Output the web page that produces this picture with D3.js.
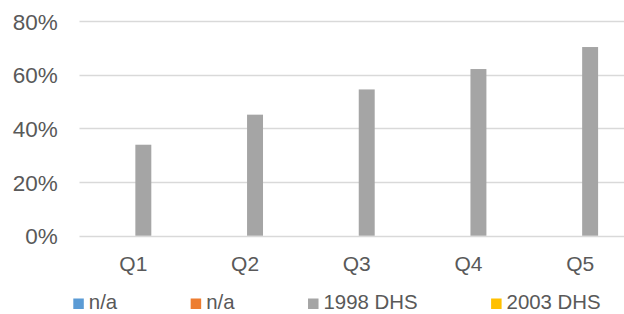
<!DOCTYPE html>
<html><head><meta charset="utf-8">
<script src="https://cdn.jsdelivr.net/npm/d3@7"></script>
<style>
html,body{margin:0;padding:0;background:#fff;overflow:hidden;}
text{font-family:"Liberation Sans",Arial,sans-serif;fill:#595959;}
</style></head>
<body>
<svg id="chart" width="624" height="314"></svg>
<script>
const categories = ["Q1","Q2","Q3","Q4","Q5"];
const seriesNames = ["n/a","n/a ","1998 DHS","2003 DHS"];
const seriesLabels = ["n/a","n/a","1998 DHS","2003 DHS"];
const seriesColors = ["#5B9BD5","#ED7D31","#A5A5A5","#FFC000"];
const valuesNA1 = [null,null,null,null,null];
const valuesNA2 = [null,null,null,null,null];
const values1998 = [0.339,0.451,0.545,0.621,0.703];
const values2003 = [null,null,null,null,null];
const yTicks = [0,0.2,0.4,0.6,0.8];

const seriesValues = [valuesNA1,valuesNA2,values1998,values2003];

const svg = d3.select("#chart");
const plotLeft = 79.5, step = 111.7, plotTop = 21, plotBottom = 235.7;

const x0 = d3.scaleBand().domain(categories).range([plotLeft, plotLeft + step*categories.length]).paddingInner(0).paddingOuter(0);
const x1 = d3.scaleBand().domain(seriesNames).range([0, x0.bandwidth()]).paddingInner(0).paddingOuter(1.5);
const y = d3.scaleLinear().domain([0,0.8]).range([plotBottom, plotTop]);

// gridlines
svg.append("g").selectAll("line").data(yTicks).join("line")
  .attr("x1", plotLeft).attr("x2", 624)
  .attr("y1", d=>Math.round(y(d))+0.5).attr("y2", d=>Math.round(y(d))+0.5)
  .attr("stroke","#D9D9D9").attr("stroke-width",1.3);

// y axis labels
const yAxis = d3.axisLeft(y).tickValues(yTicks).tickFormat(d3.format(".0%")).tickSize(0).tickPadding(0);
const gy = svg.append("g").attr("transform",`translate(57.7,0)`).call(yAxis);
gy.select(".domain").remove();
gy.selectAll("text").attr("font-size",22.5).attr("fill","#595959").attr("font-family","Liberation Sans, Arial, sans-serif").attr("dy","0.36em");

// bars
const rows = [];
seriesNames.forEach((s,si)=>{
  categories.forEach((c,ci)=>{
    const v = seriesValues[si][ci];
    if(v!=null) rows.push({s,c,v,color:seriesColors[si]});
  });
});
svg.append("g").selectAll("rect").data(rows).join("rect")
  .attr("x", d=>x0(d.c)+x1(d.s))
  .attr("width", x1.bandwidth())
  .attr("y", d=>y(d.v))
  .attr("height", d=>y(0)-y(d.v))
  .attr("fill", d=>d.color);

// x axis labels
const xAxis = d3.axisBottom(x0).tickSize(0).tickPadding(0);
const gx = svg.append("g").attr("transform",`translate(-2,${plotBottom})`).call(xAxis);
gx.select(".domain").remove();
gx.selectAll("text").attr("font-size",21).attr("fill","#595959").attr("font-family","Liberation Sans, Arial, sans-serif").attr("dy",null).attr("y",35);

// legend
const lg = svg.append("g");
let cx = 73.3;
seriesLabels.forEach((lab,i)=>{
  const g = lg.append("g").attr("transform",`translate(${cx},0)`);
  g.append("rect").attr("x",0).attr("y",298.5).attr("width",10.5).attr("height",10.5).attr("fill",seriesColors[i]);
  const t = g.append("text").attr("x",15.5).attr("y",309.3).attr("font-size",20.4).text(lab);
  cx += 15.5 + t.node().getComputedTextLength() + 73.5;
});
</script>
</body></html>
